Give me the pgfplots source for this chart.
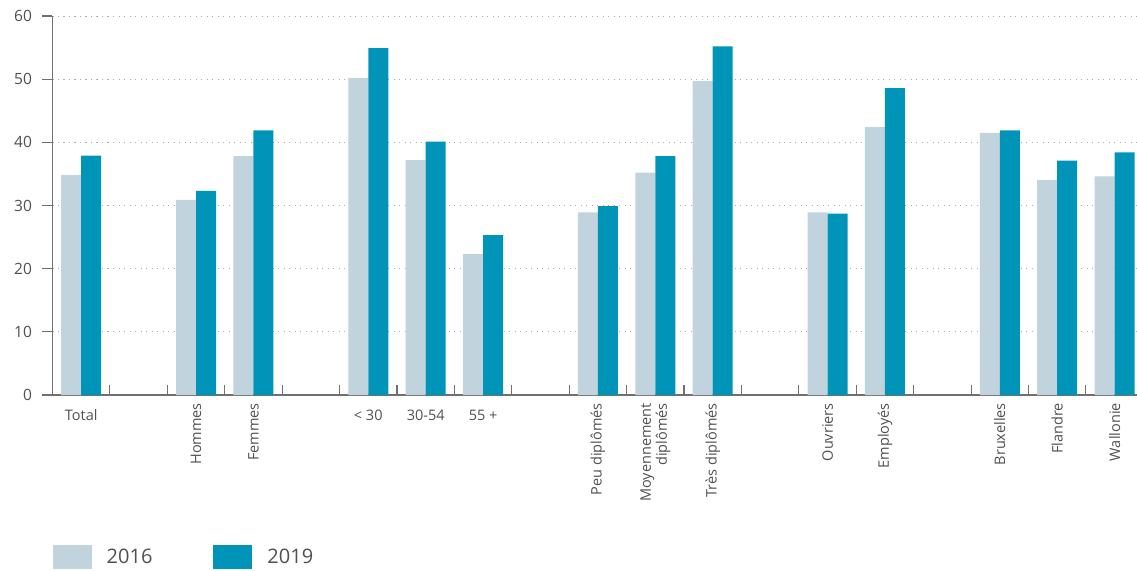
\documentclass[border=0pt]{standalone}
\usepackage{graphicx}
\usepackage{pgfplots}
\pgfplotsset{compat=1.18}
\usepackage{fontspec}
\setmainfont{Open Sans}
\definecolor{cA}{RGB}{193,211,220}
\definecolor{cB}{RGB}{0,149,184}
\definecolor{axisgray}{RGB}{112,112,112}
\definecolor{txt}{RGB}{80,80,80}
\newcommand{\hl}[1]{\rotatebox{-90}{\rule{0pt}{17pt}#1}}
\begin{document}
\begin{tikzpicture}
\useasboundingbox (-52.5pt,-175pt) rectangle (1084.5pt,395pt);
\begin{axis}[
  at={(0,0)}, anchor=south west,
  width=1084.5pt, height=379pt, scale only axis,
  xmin=-0.5, xmax=18.39, ymin=0, ymax=60,
  ybar=0pt, bar width=20pt,
  axis x line*=bottom, axis y line*=left,
  axis line style={draw=axisgray, line width=1.2pt},
  ytick={0,10,...,60},
  ymajorgrids,
  grid style={draw=gray!65, dash pattern=on 1.2pt off 4.3pt, line width=1pt},
  xtick={0.5,1.5,...,17.5}, xticklabels={},
  xtick align=inside, ytick align=outside,
  major tick length=10pt,
  tick style={draw=axisgray, line width=1.1pt},
  /pgf/number format/assume math mode=true,
  extra x ticks={0,2,3,5,6,7,9,10,11,13,14,16,17,18},
  extra x tick labels={\hl{Total}, Hommes, Femmes, \hl{< 30}, \hl{30-54}, \hl{55 +}, Peu diplômés, {Moyennement\\diplômés}, Très diplômés, Ouvriers, Employés, Bruxelles, Flandre, Wallonie},
  extra x tick style={major tick length=0pt, xmajorgrids=false,
    tick label style={rotate=90, anchor=east, align=right, inner xsep=8pt, font=\fontsize{14.5}{16}\selectfont, text=txt}},
  yticklabel style={font=\fontsize{15.5}{17}\selectfont, text=txt, xshift=-7pt},
  legend style={at={(rel axis cs:0,0)}, anchor=north west, yshift=-150pt, draw=none, fill=none,
    legend columns=2, font=\fontsize{20}{22}\selectfont, text=txt, inner sep=0pt,
    /tikz/every odd column/.append style={column sep=13pt},
    /tikz/every even column/.append style={column sep=59pt}},
  legend cell align=left,
  legend image code/.code={\fill[#1, draw=none] (0pt,-12pt) rectangle (39pt,12pt);},
]
\addplot[fill=cA, draw=none] coordinates {
(0,34.8) (2,30.9) (3,37.8) (5,50.2) (6,37.2) (7,22.3) (9,28.9) (10,35.2) (11,49.7) (13,28.9) (14,42.4) (16,41.5) (17,34.0) (18,34.6)};
\addplot[fill=cB, draw=none] coordinates {
(0,37.9) (2,32.3) (3,41.9) (5,54.9) (6,40.1) (7,25.3) (9,29.9) (10,37.8) (11,55.2) (13,28.7) (14,48.6) (16,41.9) (17,37.1) (18,38.4)};
\legend{2016,2019}
\end{axis}
\end{tikzpicture}
\end{document}
